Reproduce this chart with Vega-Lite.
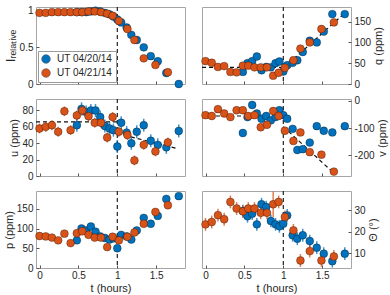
{
  "$schema": "https://vega.github.io/schema/vega-lite/v6.json",
  "padding": {"left": 2, "top": 4, "right": 2, "bottom": 3},
  "config": {
    "font": "Liberation Sans",
    "view": {"stroke": "#a6a6a6", "strokeWidth": 1},
    "axis": {"grid": false, "domain": false, "tickColor": "#555555", "tickSize": -3, "labelPadding": 6, "labelFontSize": 10, "labelColor": "#262626", "labelOverlap": false, "labelBound": false, "labelExpr": "'' + datum.value", "titleFontSize": 11, "titleColor": "#262626", "titleFontWeight": "normal", "titlePadding": 2},
    "legend": {"labelFontSize": 10, "labelColor": "#262626"}
  },
  "datasets": {
    "obs": [
      {"s": "UT 04/20/14", "t": 0.48, "I": 0.98, "q": 29, "u": 62, "v": -118, "p": 70, "th": 29.6, "eI": 0.012, "eq": 5, "eu": 8, "ev": 12, "ep": 6, "eth": 3},
      {"s": "UT 04/20/14", "t": 0.54, "I": 0.98, "q": 50, "u": 82, "v": -60, "p": 100, "th": 27.2, "eI": 0.012, "eq": 5, "eu": 8, "ev": 12, "ep": 6, "eth": 3},
      {"s": "UT 04/20/14", "t": 0.60, "I": 0.98, "q": 55, "u": 78, "v": -16, "p": 95, "th": 28.4, "eI": 0.012, "eq": 5, "eu": 8, "ev": 12, "ep": 6, "eth": 3},
      {"s": "UT 04/20/14", "t": 0.66, "I": 0.99, "q": 66, "u": 80, "v": -47, "p": 105, "th": 23.4, "eI": 0.012, "eq": 5, "eu": 8, "ev": 12, "ep": 6, "eth": 3},
      {"s": "UT 04/20/14", "t": 0.72, "I": 1.0, "q": 33, "u": 80, "v": -66, "p": 92, "th": 32.8, "eI": 0.012, "eq": 5, "eu": 8, "ev": 12, "ep": 6, "eth": 3},
      {"s": "UT 04/20/14", "t": 0.78, "I": 0.99, "q": 41, "u": 72, "v": -56, "p": 80, "th": 31.5, "eI": 0.012, "eq": 5, "eu": 8, "ev": 12, "ep": 6, "eth": 3},
      {"s": "UT 04/20/14", "t": 0.84, "I": 0.97, "q": 40, "u": 61, "v": -72, "p": 76, "th": 25.0, "eI": 0.012, "eq": 5, "eu": 8, "ev": 12, "ep": 6, "eth": 3},
      {"s": "UT 04/20/14", "t": 0.90, "I": 0.95, "q": 50, "u": 58, "v": -60, "p": 72, "th": 23.4, "eI": 0.012, "eq": 5, "eu": 8, "ev": 12, "ep": 6, "eth": 3},
      {"s": "UT 04/20/14", "t": 0.95, "I": 0.92, "q": 54, "u": 56, "v": -35, "p": 75, "th": 22.5, "eI": 0.012, "eq": 5, "eu": 8, "ev": 12, "ep": 6, "eth": 3},
      {"s": "UT 04/20/14", "t": 1.00, "I": 0.88, "q": 30, "u": 36, "v": -53, "p": 50, "th": 23.7, "eI": 0.012, "eq": 5, "eu": 8, "ev": 12, "ep": 6, "eth": 3},
      {"s": "UT 04/20/14", "t": 1.05, "I": 0.84, "q": 45, "u": 65, "v": -66, "p": 84, "th": 27.6, "eI": 0.012, "eq": 5, "eu": 8, "ev": 12, "ep": 6, "eth": 3},
      {"s": "UT 04/20/14", "t": 1.12, "I": 0.77, "q": 51, "u": 53, "v": -103, "p": 80, "th": 18.3, "eI": 0.012, "eq": 5, "eu": 8, "ev": 12, "ep": 6, "eth": 3},
      {"s": "UT 04/20/14", "t": 1.18, "I": 0.67, "q": 57, "u": 40, "v": -180, "p": 72, "th": 16.7, "eI": 0.012, "eq": 5, "eu": 8, "ev": 12, "ep": 6, "eth": 3},
      {"s": "UT 04/20/14", "t": 1.25, "I": 0.60, "q": 77, "u": 54, "v": -177, "p": 95, "th": 18.3, "eI": 0.012, "eq": 5, "eu": 8, "ev": 12, "ep": 6, "eth": 3},
      {"s": "UT 04/20/14", "t": 1.34, "I": 0.50, "q": 104, "u": 62, "v": -153, "p": 127, "th": 15.6, "eI": 0.012, "eq": 5, "eu": 8, "ev": 12, "ep": 6, "eth": 3},
      {"s": "UT 04/20/14", "t": 1.43, "I": 0.38, "q": 100, "u": 43, "v": -93, "p": 112, "th": 12.5, "eI": 0.012, "eq": 5, "eu": 8, "ev": 12, "ep": 6, "eth": 3},
      {"s": "UT 04/20/14", "t": 1.52, "I": 0.31, "q": 126, "u": 38, "v": -110, "p": 132, "th": 9.7, "eI": 0.012, "eq": 5, "eu": 8, "ev": 12, "ep": 6, "eth": 3},
      {"s": "UT 04/20/14", "t": 1.63, "I": 0.15, "q": 168, "u": 35, "v": -116, "p": 175, "th": 6.2, "eI": 0.012, "eq": 5, "eu": 8, "ev": 12, "ep": 6, "eth": 3},
      {"s": "UT 04/20/14", "t": 1.79, "I": 0.0, "q": 168, "u": 55, "v": -93, "p": 182, "th": 9.7, "eI": 0.012, "eq": 5, "eu": 8, "ev": 12, "ep": 6, "eth": 3},
      {"s": "UT 04/21/14", "t": 0.00, "I": 0.97, "q": 55, "u": 58, "v": -53, "p": 81, "th": 23.4, "eI": 0.01, "eq": 4, "eu": 6, "ev": 10, "ep": 5, "eth": 3},
      {"s": "UT 04/21/14", "t": 0.08, "I": 0.97, "q": 51, "u": 60, "v": -56, "p": 80, "th": 24.5, "eI": 0.01, "eq": 4, "eu": 6, "ev": 10, "ep": 5, "eth": 3},
      {"s": "UT 04/21/14", "t": 0.16, "I": 0.98, "q": 41, "u": 62, "v": -31, "p": 77, "th": 27.7, "eI": 0.01, "eq": 4, "eu": 6, "ev": 10, "ep": 5, "eth": 3},
      {"s": "UT 04/21/14", "t": 0.24, "I": 0.98, "q": 43, "u": 54, "v": -47, "p": 70, "th": 25.8, "eI": 0.01, "eq": 4, "eu": 6, "ev": 10, "ep": 5, "eth": 3},
      {"s": "UT 04/21/14", "t": 0.32, "I": 0.98, "q": 29, "u": 79, "v": -60, "p": 87, "th": 33.9, "eI": 0.01, "eq": 4, "eu": 6, "ev": 10, "ep": 5, "eth": 3},
      {"s": "UT 04/21/14", "t": 0.40, "I": 0.98, "q": 28, "u": 56, "v": -35, "p": 63, "th": 30.8, "eI": 0.01, "eq": 4, "eu": 6, "ev": 10, "ep": 5, "eth": 3},
      {"s": "UT 04/21/14", "t": 0.48, "I": 0.98, "q": 44, "u": 74, "v": -35, "p": 88, "th": 29.5, "eI": 0.01, "eq": 4, "eu": 6, "ev": 10, "ep": 5, "eth": 3},
      {"s": "UT 04/21/14", "t": 0.55, "I": 0.98, "q": 44, "u": 80, "v": -56, "p": 93, "th": 30.8, "eI": 0.01, "eq": 4, "eu": 6, "ev": 10, "ep": 5, "eth": 3},
      {"s": "UT 04/21/14", "t": 0.63, "I": 0.99, "q": 40, "u": 73, "v": -53, "p": 84, "th": 30.8, "eI": 0.01, "eq": 4, "eu": 6, "ev": 10, "ep": 5, "eth": 3},
      {"s": "UT 04/21/14", "t": 0.71, "I": 0.99, "q": 40, "u": 65, "v": -97, "p": 77, "th": 28.8, "eI": 0.01, "eq": 4, "eu": 6, "ev": 10, "ep": 5, "eth": 3},
      {"s": "UT 04/21/14", "t": 0.79, "I": 0.98, "q": 40, "u": 65, "v": -88, "p": 77, "th": 28.8, "eI": 0.01, "eq": 4, "eu": 6, "ev": 10, "ep": 5, "eth": 3},
      {"s": "UT 04/21/14", "t": 0.87, "I": 0.96, "q": 20, "u": 47, "v": -38, "p": 53, "th": 32.8, "eI": 0.01, "eq": 4, "eu": 6, "ev": 10, "ep": 5, "eth": 6},
      {"s": "UT 04/21/14", "t": 0.94, "I": 0.93, "q": 27, "u": 72, "v": -56, "p": 79, "th": 33.9, "eI": 0.01, "eq": 4, "eu": 6, "ev": 10, "ep": 5, "eth": 3},
      {"s": "UT 04/21/14", "t": 1.02, "I": 0.86, "q": 39, "u": 54, "v": -110, "p": 70, "th": 26.9, "eI": 0.01, "eq": 4, "eu": 6, "ev": 10, "ep": 5, "eth": 3},
      {"s": "UT 04/21/14", "t": 1.13, "I": 0.75, "q": 57, "u": 50, "v": -147, "p": 79, "th": 20.6, "eI": 0.01, "eq": 4, "eu": 6, "ev": 10, "ep": 5, "eth": 3},
      {"s": "UT 04/21/14", "t": 1.22, "I": 0.60, "q": 85, "u": 19, "v": -116, "p": 90, "th": 6.5, "eI": 0.01, "eq": 4, "eu": 6, "ev": 10, "ep": 5, "eth": 3},
      {"s": "UT 04/21/14", "t": 1.34, "I": 0.35, "q": 100, "u": 38, "v": -188, "p": 112, "th": 10.9, "eI": 0.01, "eq": 4, "eu": 6, "ev": 10, "ep": 5, "eth": 3},
      {"s": "UT 04/21/14", "t": 1.49, "I": 0.26, "q": 132, "u": 30, "v": -197, "p": 142, "th": 6.5, "eI": 0.01, "eq": 4, "eu": 6, "ev": 10, "ep": 5, "eth": 3},
      {"s": "UT 04/21/14", "t": 1.65, "I": 0.16, "q": 148, "u": 41, "v": -259, "p": 159, "th": 8.4, "eI": 0.01, "eq": 4, "eu": 6, "ev": 10, "ep": 5, "eth": 3}
    ],
    "cut": [{"tc": 1}],
    "fitq": [
      {"seg": "a", "t": -0.045, "y": 40}, {"seg": "a", "t": 1.0, "y": 40},
      {"seg": "b", "t": 1.0, "y": 38}, {"seg": "b", "t": 1.8, "y": 172}
    ],
    "fitu": [
      {"seg": "a", "t": -0.045, "y": 66}, {"seg": "a", "t": 1.0, "y": 66},
      {"seg": "b", "t": 1.0, "y": 52}, {"seg": "b", "t": 1.75, "y": 34}
    ],
    "fitv": [
      {"seg": "a", "t": -0.045, "y": -56}, {"seg": "a", "t": 1.0, "y": -56},
      {"seg": "b", "t": 1.0, "y": -95}, {"seg": "b", "t": 1.64, "y": -262}
    ]
  },
  "columns": 2,
  "spacing": {"row": 15, "column": 17},
  "bounds": "flush",
  "resolve": {"scale": {"color": "independent"}, "legend": {"color": "independent"}},
  "concat": [
    {
      "width": 149, "height": 77,
      "layer": [
        {"data": {"name": "cut"}, "mark": {"type": "rule", "color": "#222222", "strokeDash": [4, 3], "strokeWidth": 1.2},
         "encoding": {"x": {"field": "tc", "type": "quantitative", "scale": {"domain": [-0.045, 1.87], "nice": false, "zero": false}, "axis": {"values": [0, 0.5, 1, 1.5], "tickCount": 10, "labels": false, "title": null}}}},
        {"data": {"name": "obs"}, "transform": [{"filter": "datum.s === 'UT 04/20/14'"}], "mark": {"type": "errorbar", "ticks": false, "thickness": 1.5, "opacity": 0.75, "color": "#0072BD"},
         "encoding": {"x": {"field": "t", "type": "quantitative"}, "y": {"field": "I", "type": "quantitative", "title": "Iᵣₑₗₐₜᵢᵥₑ"}, "yError": {"field": "eI"}}},
        {"data": {"name": "obs"}, "transform": [{"filter": "datum.s === 'UT 04/21/14'"}], "mark": {"type": "errorbar", "ticks": false, "thickness": 1.5, "opacity": 0.75, "color": "#D95319"},
         "encoding": {"x": {"field": "t", "type": "quantitative"}, "y": {"field": "I", "type": "quantitative", "title": "Iᵣₑₗₐₜᵢᵥₑ"}, "yError": {"field": "eI"}}},
        {"data": {"name": "obs"}, "mark": {"type": "circle", "size": 62, "opacity": 1, "stroke": "#000000", "strokeOpacity": 0.4, "strokeWidth": 0.8},
         "encoding": {"x": {"field": "t", "type": "quantitative"},
          "y": {"field": "I", "type": "quantitative", "title": "Iᵣₑₗₐₜᵢᵥₑ", "scale": {"domain": [0, 1.05], "nice": false, "zero": false}, "axis": {"values": [0, 0.5, 1], "tickCount": 10, "titleFontSize": 13}},
          "color": {"field": "s", "type": "nominal", "scale": {"domain": ["UT 04/20/14", "UT 04/21/14"], "range": ["#0072BD", "#D95319"]},
            "legend": {"title": null, "orient": "bottom-left", "offset": 2, "padding": 3, "rowPadding": 2, "symbolSize": 75, "symbolType": "circle", "symbolStrokeColor": "#555555", "symbolStrokeWidth": 0.6, "strokeColor": "#9a9a9a", "fillColor": "white", "labelOffset": 6}}}}
      ]
    },
    {
      "width": 149, "height": 77,
      "layer": [
        {"data": {"name": "cut"}, "mark": {"type": "rule", "color": "#222222", "strokeDash": [4, 3], "strokeWidth": 1.2},
         "encoding": {"x": {"field": "tc", "type": "quantitative", "scale": {"domain": [-0.045, 1.87], "nice": false, "zero": false}, "axis": {"values": [0, 0.5, 1, 1.5], "tickCount": 10, "labels": false, "title": null}}}},
        {"data": {"name": "fitq"}, "mark": {"type": "line", "color": "#111111", "strokeDash": [4, 3], "strokeWidth": 1.2},
         "encoding": {"x": {"field": "t", "type": "quantitative"}, "y": {"field": "y", "type": "quantitative", "title": "q (ppm)"}, "detail": {"field": "seg"}}},
        {"data": {"name": "obs"}, "mark": {"type": "errorbar", "ticks": false, "thickness": 1.5, "opacity": 0.75},
         "encoding": {"x": {"field": "t", "type": "quantitative"}, "y": {"field": "q", "type": "quantitative", "title": "q (ppm)"}, "yError": {"field": "eq"},
          "color": {"field": "s", "type": "nominal", "scale": {"domain": ["UT 04/20/14", "UT 04/21/14"], "range": ["#0072BD", "#D95319"]}, "legend": null}}},
        {"data": {"name": "obs"}, "mark": {"type": "circle", "size": 62, "opacity": 1, "stroke": "#000000", "strokeOpacity": 0.4, "strokeWidth": 0.8},
         "encoding": {"x": {"field": "t", "type": "quantitative"},
          "y": {"field": "q", "type": "quantitative", "title": "q (ppm)", "scale": {"domain": [0, 185], "nice": false, "zero": false}, "axis": {"orient": "right", "values": [0, 50, 100, 150], "tickCount": 10, "titleAngle": 270, "titleBaseline": "top"}},
          "color": {"field": "s", "type": "nominal", "scale": {"domain": ["UT 04/20/14", "UT 04/21/14"], "range": ["#0072BD", "#D95319"]}, "legend": null}}}
      ]
    },
    {
      "width": 149, "height": 77,
      "layer": [
        {"data": {"name": "cut"}, "mark": {"type": "rule", "color": "#222222", "strokeDash": [4, 3], "strokeWidth": 1.2},
         "encoding": {"x": {"field": "tc", "type": "quantitative", "scale": {"domain": [-0.045, 1.87], "nice": false, "zero": false}, "axis": {"values": [0, 0.5, 1, 1.5], "tickCount": 10, "labels": false, "title": null}}}},
        {"data": {"name": "fitu"}, "mark": {"type": "line", "color": "#111111", "strokeDash": [4, 3], "strokeWidth": 1.2},
         "encoding": {"x": {"field": "t", "type": "quantitative"}, "y": {"field": "y", "type": "quantitative", "title": "u (ppm)"}, "detail": {"field": "seg"}}},
        {"data": {"name": "obs"}, "mark": {"type": "errorbar", "ticks": false, "thickness": 1.5, "opacity": 0.75},
         "encoding": {"x": {"field": "t", "type": "quantitative"}, "y": {"field": "u", "type": "quantitative", "title": "u (ppm)"}, "yError": {"field": "eu"},
          "color": {"field": "s", "type": "nominal", "scale": {"domain": ["UT 04/20/14", "UT 04/21/14"], "range": ["#0072BD", "#D95319"]}, "legend": null}}},
        {"data": {"name": "obs"}, "mark": {"type": "circle", "size": 62, "opacity": 1, "stroke": "#000000", "strokeOpacity": 0.4, "strokeWidth": 0.8},
         "encoding": {"x": {"field": "t", "type": "quantitative"},
          "y": {"field": "u", "type": "quantitative", "title": "u (ppm)", "scale": {"domain": [0, 94], "nice": false, "zero": false}, "axis": {"values": [0, 20, 40, 60, 80], "tickCount": 10}},
          "color": {"field": "s", "type": "nominal", "scale": {"domain": ["UT 04/20/14", "UT 04/21/14"], "range": ["#0072BD", "#D95319"]}, "legend": null}}}
      ]
    },
    {
      "width": 149, "height": 77,
      "layer": [
        {"data": {"name": "cut"}, "mark": {"type": "rule", "color": "#222222", "strokeDash": [4, 3], "strokeWidth": 1.2},
         "encoding": {"x": {"field": "tc", "type": "quantitative", "scale": {"domain": [-0.045, 1.87], "nice": false, "zero": false}, "axis": {"values": [0, 0.5, 1, 1.5], "tickCount": 10, "labels": false, "title": null}}}},
        {"data": {"name": "fitv"}, "mark": {"type": "line", "color": "#111111", "strokeDash": [4, 3], "strokeWidth": 1.2},
         "encoding": {"x": {"field": "t", "type": "quantitative"}, "y": {"field": "y", "type": "quantitative", "title": "v (ppm)"}, "detail": {"field": "seg"}}},
        {"data": {"name": "obs"}, "mark": {"type": "errorbar", "ticks": false, "thickness": 1.5, "opacity": 0.75},
         "encoding": {"x": {"field": "t", "type": "quantitative"}, "y": {"field": "v", "type": "quantitative", "title": "v (ppm)"}, "yError": {"field": "ev"},
          "color": {"field": "s", "type": "nominal", "scale": {"domain": ["UT 04/20/14", "UT 04/21/14"], "range": ["#0072BD", "#D95319"]}, "legend": null}}},
        {"data": {"name": "obs"}, "mark": {"type": "circle", "size": 62, "opacity": 1, "stroke": "#000000", "strokeOpacity": 0.4, "strokeWidth": 0.8},
         "encoding": {"x": {"field": "t", "type": "quantitative"},
          "y": {"field": "v", "type": "quantitative", "title": "v (ppm)", "scale": {"domain": [-275, 6], "nice": false, "zero": false}, "axis": {"orient": "right", "values": [-200, -100, 0], "tickCount": 10, "titleAngle": 270, "titleBaseline": "top"}},
          "color": {"field": "s", "type": "nominal", "scale": {"domain": ["UT 04/20/14", "UT 04/21/14"], "range": ["#0072BD", "#D95319"]}, "legend": null}}}
      ]
    },
    {
      "width": 149, "height": 77,
      "layer": [
        {"data": {"name": "cut"}, "mark": {"type": "rule", "color": "#222222", "strokeDash": [4, 3], "strokeWidth": 1.2},
         "encoding": {"x": {"field": "tc", "type": "quantitative", "title": "t (hours)", "scale": {"domain": [-0.045, 1.87], "nice": false, "zero": false}, "axis": {"values": [0, 0.5, 1, 1.5], "tickCount": 10, "labelPadding": 5}}}},
        {"data": {"name": "obs"}, "mark": {"type": "errorbar", "ticks": false, "thickness": 1.5, "opacity": 0.75},
         "encoding": {"x": {"field": "t", "type": "quantitative", "title": "t (hours)"}, "y": {"field": "p", "type": "quantitative", "title": "p (ppm)"}, "yError": {"field": "ep"},
          "color": {"field": "s", "type": "nominal", "scale": {"domain": ["UT 04/20/14", "UT 04/21/14"], "range": ["#0072BD", "#D95319"]}, "legend": null}}},
        {"data": {"name": "obs"}, "mark": {"type": "circle", "size": 62, "opacity": 1, "stroke": "#000000", "strokeOpacity": 0.4, "strokeWidth": 0.8},
         "encoding": {"x": {"field": "t", "type": "quantitative", "title": "t (hours)"},
          "y": {"field": "p", "type": "quantitative", "title": "p (ppm)", "scale": {"domain": [0, 195], "nice": false, "zero": false}, "axis": {"values": [0, 50, 100, 150], "tickCount": 10}},
          "color": {"field": "s", "type": "nominal", "scale": {"domain": ["UT 04/20/14", "UT 04/21/14"], "range": ["#0072BD", "#D95319"]}, "legend": null}}}
      ]
    },
    {
      "width": 149, "height": 77,
      "layer": [
        {"data": {"name": "cut"}, "mark": {"type": "rule", "color": "#222222", "strokeDash": [4, 3], "strokeWidth": 1.2},
         "encoding": {"x": {"field": "tc", "type": "quantitative", "title": "t (hours)", "scale": {"domain": [-0.045, 1.87], "nice": false, "zero": false}, "axis": {"values": [0, 0.5, 1, 1.5], "tickCount": 10, "labelPadding": 5}}}},
        {"data": {"name": "obs"}, "mark": {"type": "errorbar", "ticks": false, "thickness": 1.5, "opacity": 0.75},
         "encoding": {"x": {"field": "t", "type": "quantitative", "title": "t (hours)"}, "y": {"field": "th", "type": "quantitative", "title": "Θ (°)"}, "yError": {"field": "eth"},
          "color": {"field": "s", "type": "nominal", "scale": {"domain": ["UT 04/20/14", "UT 04/21/14"], "range": ["#0072BD", "#D95319"]}, "legend": null}}},
        {"data": {"name": "obs"}, "mark": {"type": "circle", "size": 62, "opacity": 1, "stroke": "#000000", "strokeOpacity": 0.4, "strokeWidth": 0.8},
         "encoding": {"x": {"field": "t", "type": "quantitative", "title": "t (hours)"},
          "y": {"field": "th", "type": "quantitative", "title": "Θ (°)", "scale": {"domain": [3, 39], "nice": false, "zero": false}, "axis": {"orient": "right", "values": [10, 20, 30], "tickCount": 10, "titleAngle": 270, "titleBaseline": "top"}},
          "color": {"field": "s", "type": "nominal", "scale": {"domain": ["UT 04/20/14", "UT 04/21/14"], "range": ["#0072BD", "#D95319"]}, "legend": null}}}
      ]
    }
  ]
}
